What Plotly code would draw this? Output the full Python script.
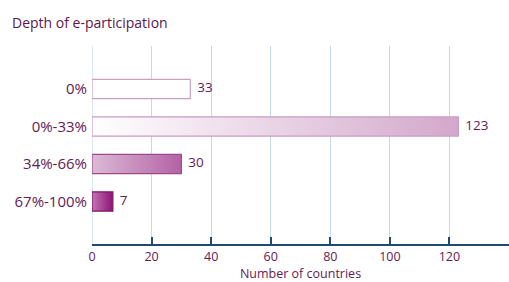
import plotly.graph_objects as go

categories = ["0%", "0%-33%", "34%-66%", "67%-100%"]
values = [33, 123, 30, 7]
grad_left = ["#ffffff", "#ffffff", "#dcb9d6", "#c574b7"]
grad_right = ["#ffffff", "#d3a8cb", "#b462a6", "#8c1575"]
border = ["#c9a0c2", "#c99cc1", "#9c4a8e", "#7a1466"]
x_ticks = [0, 20, 40, 60, 80, 100, 120]

half = 0.255
text_col = "#631a57"
fig = go.Figure()
for i, (c, v) in enumerate(zip(categories, values)):
    fig.add_trace(go.Scatter(
        x=[0, v, v, 0, 0], y=[i - half, i - half, i + half, i + half, i - half],
        mode="lines", fill="toself",
        line=dict(color=border[i], width=1.2),
        fillgradient=dict(type="horizontal", colorscale=[[0, grad_left[i]], [1, grad_right[i]]]),
        hoverinfo="skip", showlegend=False))
fig.add_trace(go.Scatter(
    x=values, y=list(range(len(values))), mode="text",
    text=[f"  {v}" for v in values], textposition="middle right",
    textfont=dict(family="Open Sans", size=13.5, color=text_col),
    showlegend=False, hoverinfo="skip"))

fig.update_layout(
    width=509, height=282,
    margin=dict(l=92, r=0, t=46, b=38),
    paper_bgcolor="white", plot_bgcolor="white",
    font=dict(family="Open Sans", color=text_col),
)
fig.add_annotation(text="Depth of e-participation", xref="paper", yref="paper",
                   x=-82/417, y=1 + (46 - 22) / 198, xanchor="left", yanchor="middle",
                   showarrow=False, font=dict(family="Open Sans", size=14, color="#5c1650"))
fig.update_xaxes(range=[0, 140], tickvals=x_ticks, showgrid=True, gridcolor="#c5d8ee", gridwidth=1.2,
                 zeroline=False, showline=True, linecolor="#1d4a6e", linewidth=1.5,
                 ticks="inside", ticklen=7, tickcolor="#1d4a6e", tickwidth=1.5,
                 tickfont=dict(size=12.5, color=text_col), automargin=False,
                 title=dict(text="Number of countries", font=dict(size=12.5, color=text_col), standoff=0))
fig.update_yaxes(range=[4.133, -1.147], tickvals=list(range(len(categories))), ticktext=categories,
                 showgrid=False, zeroline=False, showline=False, ticks="", automargin=False,
                 tickfont=dict(size=15, color=text_col), ticklabelstandoff=4)
fig.add_shape(type="line", xref="x", yref="paper", x0=0, x1=0, y0=0, y1=1,
              line=dict(color="#c5d8ee", width=1.2), layer="below")
fig.write_html("out.html", config={"displayModeBar": False})

with open("out.html", encoding="utf-8") as f:
    html = f.read()
html = html.replace("<body>", '<body style="margin:0;padding:0;overflow:hidden">', 1)
with open("out.html", "w", encoding="utf-8") as f:
    f.write(html)
